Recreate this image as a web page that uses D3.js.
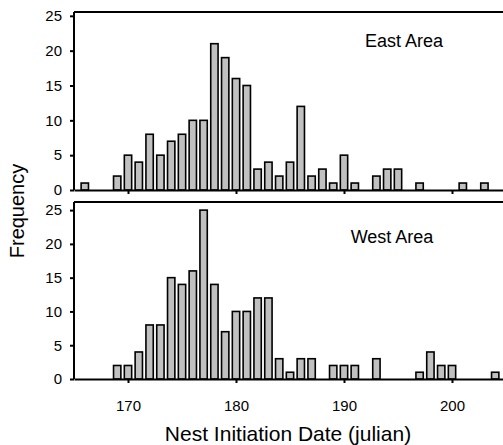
<!DOCTYPE html>
<html>
<head>
<meta charset="utf-8">
<script src="https://cdn.jsdelivr.net/npm/d3@7"></script>
<style>
  body { margin: 0; background: #fff; }
  svg { display: block; font-family: "Liberation Sans", Arial, sans-serif; }
  .axis text { font-size: 15px; fill: #000; }
  .axis path, .axis line { stroke: #000; stroke-width: 2; }
  .bar { fill: #c0c0c0; stroke: #000; stroke-width: 1.6; }
</style>
</head>
<body>
<div id="chart"></div>
<script>
// frequencies per julian day (days with 0 are left out)
const eastDays = [166, 169, 170, 171, 172, 173, 174, 175, 176, 177, 178, 179, 180, 181, 182, 183, 184, 185, 186, 187, 188, 189, 190, 191, 193, 194, 195, 197, 201, 203]
const eastCounts = [1, 2, 5, 4, 8, 5, 7, 8, 10, 10, 21, 19, 16, 15, 3, 4, 2, 4, 12, 2, 3, 1, 5, 1, 2, 3, 3, 1, 1, 1]
const westDays = [169, 170, 171, 172, 173, 174, 175, 176, 177, 178, 179, 180, 181, 182, 183, 184, 185, 186, 187, 189, 190, 191, 193, 197, 198, 199, 200, 204]
const westCounts = [2, 2, 4, 8, 8, 15, 14, 16, 25, 14, 7, 10, 10, 12, 12, 3, 1, 3, 3, 2, 2, 2, 3, 1, 4, 2, 2, 1]
const xTicks = [170, 180, 190, 200]
const yTicks = [0, 5, 10, 15, 20, 25]

const width = 503, height = 445
const left = 74, right = 506

const svg = d3.select("#chart").append("svg")
  .attr("width", width)
  .attr("height", height)
  .attr("viewBox", [0, 0, width, height])

const x = d3.scaleLinear().domain([165, 205]).range([left, right])
const barW = (x(166) - x(165)) * 0.68

function panel(days, counts, label, top, bottom, yMax, labelX, labelY, showLabels) {
  const data = days.map((d, i) => ({day: d, n: counts[i]}))
  const y = d3.scaleLinear().domain([0, yMax]).range([bottom, top])
  const g = svg.append("g")

  g.selectAll("rect").data(data).join("rect")
    .attr("class", "bar")
    .attr("x", d => x(d.day) - barW / 2)
    .attr("width", barW)
    .attr("y", d => y(d.n))
    .attr("height", d => y(0) - y(d.n))

  // frame: top edge and right edge (the right one falls outside the picture)
  g.append("path")
    .attr("d", `M${left},${y(yMax)}H${right}V${y(0)}`)
    .attr("fill", "none").attr("stroke", "#000").attr("stroke-width", 2)

  g.append("g").attr("class", "axis")
    .attr("transform", `translate(${left},0)`)
    .call(d3.axisLeft(y).tickValues(yTicks).tickSize(4).tickSizeOuter(0).tickPadding(8))
    .attr("font-family", null)
    .call(g => g.select(".domain").attr("d", `M0,${y(yMax)}V${y(0)}`))

  g.append("g").attr("class", "axis")
    .attr("transform", `translate(0,${y(0)})`)
    .call(d3.axisBottom(x).tickValues(xTicks).tickSize(4).tickSizeOuter(0).tickPadding(17)
      .tickFormat(showLabels ? d3.format("d") : () => ""))
    .attr("font-family", null)

  g.append("text")
    .attr("x", labelX).attr("y", labelY)
    .attr("text-anchor", "middle")
    .style("font-size", "18px")
    .text(label)
}

panel(eastDays, eastCounts, "East Area", 12, 190, 25.55, 404, 47, false)
panel(westDays, westCounts, "West Area", 202, 379, 26.2, 392, 243, true)

svg.append("text")
  .attr("x", 288).attr("y", 441)
  .attr("text-anchor", "middle")
  .style("font-size", "21px")
  .text("Nest Initiation Date (julian)")

svg.append("text")
  .attr("transform", "translate(24,211) rotate(-90)")
  .attr("text-anchor", "middle")
  .style("font-size", "20px")
  .text("Frequency")
</script>
</body>
</html>
